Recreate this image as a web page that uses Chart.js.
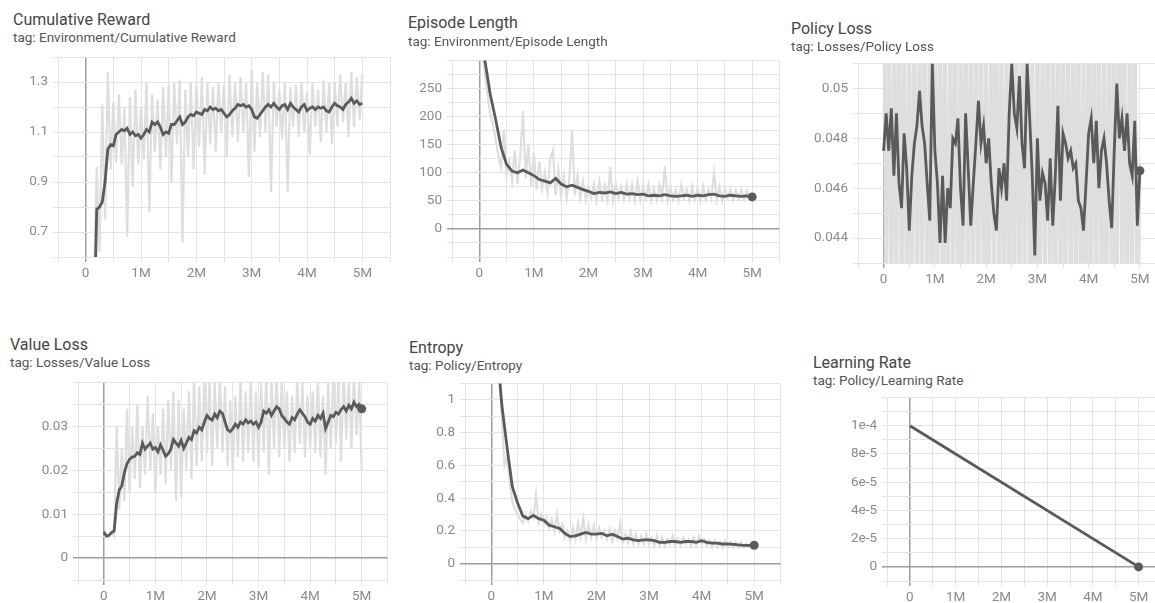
<!DOCTYPE html>
<html>
<head>
<meta charset="utf-8">
<script src="https://cdn.jsdelivr.net/npm/chart.js@4.4.0/dist/chart.umd.min.js"></script>
<style>
  html, body { margin: 0; padding: 0; background: #fff; }
  body { width: 1155px; height: 603px; overflow: hidden; position: relative; font-family: Roboto, "Noto Sans", sans-serif; }
  .title { position: absolute; font-size: 16px; line-height: 18px; color: #454545; white-space: nowrap; }
  .tag { position: absolute; font-size: 13.5px; line-height: 15px; color: #555; white-space: nowrap; }
  canvas { position: absolute; }
</style>
</head>
<body>
<script>
// steps in millions
const smoothSteps = [0, 0.1, 0.2, 0.3, 0.4, 0.5, 0.6, 0.7, 0.8, 0.9,
  1.0, 1.1, 1.2, 1.3, 1.4, 1.5, 1.6, 1.7, 1.8, 1.9,
  2.0, 2.1, 2.2, 2.3, 2.4, 2.5, 2.6, 2.7, 2.8, 2.9,
  3.0, 3.1, 3.2, 3.3, 3.4, 3.5, 3.6, 3.7, 3.8, 3.9,
  4.0, 4.1, 4.2, 4.3, 4.4, 4.5, 4.6, 4.7, 4.8, 4.9,
  5.0];
const rawSteps = [0, 0.05, 0.1, 0.15, 0.2, 0.25, 0.3, 0.35, 0.4, 0.45,
  0.5, 0.55, 0.6, 0.65, 0.7, 0.75, 0.8, 0.85, 0.9, 0.95,
  1.0, 1.05, 1.1, 1.15, 1.2, 1.25, 1.3, 1.35, 1.4, 1.45,
  1.5, 1.55, 1.6, 1.65, 1.7, 1.75, 1.8, 1.85, 1.9, 1.95,
  2.0, 2.05, 2.1, 2.15, 2.2, 2.25, 2.3, 2.35, 2.4, 2.45,
  2.5, 2.55, 2.6, 2.65, 2.7, 2.75, 2.8, 2.85, 2.9, 2.95,
  3.0, 3.05, 3.1, 3.15, 3.2, 3.25, 3.3, 3.35, 3.4, 3.45,
  3.5, 3.55, 3.6, 3.65, 3.7, 3.75, 3.8, 3.85, 3.9, 3.95,
  4.0, 4.05, 4.1, 4.15, 4.2, 4.25, 4.3, 4.35, 4.4, 4.45,
  4.5, 4.55, 4.6, 4.65, 4.7, 4.75, 4.8, 4.85, 4.9, 4.95,
  5.0];

// Environment/Cumulative Reward (smoothed read at rawSteps)
const rewardSmooth = [null, null, null, 0.3, 0.79, 0.8, 0.82, 0.9, 1.03, 1.05,
  1.045, 1.09, 1.10, 1.11, 1.105, 1.115, 1.09, 1.10, 1.085, 1.09,
  1.075, 1.09, 1.11, 1.10, 1.14, 1.13, 1.14, 1.12, 1.09, 1.10,
  1.095, 1.13, 1.13, 1.145, 1.16, 1.13, 1.14, 1.16, 1.17, 1.165,
  1.18, 1.175, 1.17, 1.19, 1.185, 1.20, 1.19, 1.195, 1.185, 1.19,
  1.175, 1.16, 1.17, 1.185, 1.195, 1.21, 1.205, 1.21, 1.20, 1.205,
  1.19, 1.16, 1.155, 1.17, 1.185, 1.20, 1.21, 1.20, 1.215, 1.20,
  1.19, 1.205, 1.21, 1.19, 1.215, 1.20, 1.19, 1.18, 1.20, 1.21,
  1.185, 1.195, 1.20, 1.19, 1.20, 1.195, 1.20, 1.185, 1.18, 1.20,
  1.215, 1.205, 1.20, 1.19, 1.21, 1.22, 1.235, 1.215, 1.225, 1.21,
  1.215];
const rewardRaw = [null, null, null, 0.5, 0.96, 0.62, 1.21, 0.75, 1.34, 0.95,
  1.22, 0.98, 1.25, 0.97, 1.20, 0.68, 1.24, 0.88, 1.27, 0.97,
  1.20, 0.99, 1.30, 0.78, 1.25, 1.02, 1.23, 0.95, 1.28, 1.00,
  1.29, 0.90, 1.30, 1.05, 1.31, 0.66, 1.27, 1.00, 1.30, 0.95,
  1.29, 1.04, 1.32, 0.93, 1.30, 1.05, 1.28, 1.02, 1.30, 1.10,
  1.29, 1.00, 1.33, 1.08, 1.30, 1.06, 1.32, 1.10, 1.30, 0.92,
  1.35, 1.02, 1.30, 1.08, 1.34, 1.10, 1.33, 0.86, 1.30, 1.12,
  1.27, 1.07, 1.30, 0.86, 1.28, 1.12, 1.29, 1.08, 1.30, 1.10,
  1.26, 1.01, 1.30, 1.12, 1.27, 1.06, 1.31, 1.10, 1.30, 1.05,
  1.30, 1.12, 1.33, 1.14, 1.30, 1.08, 1.34, 1.12, 1.32, 1.15,
  1.33];

// Environment/Episode Length
const lengthSmooth = [null, 302, 240, 195, 145, 115, 103, 100, 105, 100,
  95, 88, 85, 82, 90, 80, 75, 78, 74, 70,
  67, 63, 65, 64, 66, 63, 65, 62, 63, 61,
  62, 59, 60, 59, 61, 59, 58, 59, 60, 58,
  60, 59, 61, 62, 59, 58, 60, 59, 58, 59,
  57];
const lengthRaw = [null, 310, 280, 240, 205, 185, 160, 130, 110, 175,
  95, 120, 85, 140, 80, 130, 210, 90, 150, 75,
  135, 70, 120, 72, 100, 65, 125, 140, 60, 105,
  58, 95, 55, 90, 175, 60, 95, 55, 85, 52,
  75, 55, 80, 50, 85, 55, 78, 52, 110, 50,
  80, 55, 75, 52, 80, 55, 78, 50, 85, 52,
  75, 55, 80, 50, 72, 52, 78, 55, 112, 50,
  75, 52, 70, 50, 78, 55, 70, 50, 75, 52,
  72, 50, 76, 52, 70, 55, 100, 52, 75, 50,
  72, 55, 70, 52, 68, 54, 70, 52, 68, 55,
  60];

// Losses/Policy Loss (smoothed read at rawSteps)
const policySmooth = [0.0475, 0.0490, 0.0475, 0.0492, 0.0465, 0.0490, 0.0462, 0.0452, 0.0482, 0.0468,
  0.0443, 0.0465, 0.0478, 0.0485, 0.0499, 0.0485, 0.0478, 0.0462, 0.0447, 0.0510,
  0.0475, 0.0462, 0.0438, 0.0465, 0.0438, 0.0460, 0.0452, 0.0480, 0.0478, 0.0488,
  0.0460, 0.0445, 0.0490, 0.0468, 0.0445, 0.0462, 0.0478, 0.0495, 0.0478, 0.0485,
  0.0470, 0.0480, 0.0462, 0.0450, 0.0443, 0.0468, 0.0460, 0.0470, 0.0455, 0.0490,
  0.0510, 0.0490, 0.0484, 0.0505, 0.0478, 0.0468, 0.0510, 0.0488, 0.0465, 0.0433,
  0.0480, 0.0455, 0.0466, 0.0462, 0.0447, 0.0472, 0.0445, 0.0465, 0.0493, 0.0455,
  0.0482, 0.0478, 0.0472, 0.0475, 0.0468, 0.0470, 0.0455, 0.0452, 0.0443, 0.0462,
  0.0482, 0.0488, 0.0470, 0.0487, 0.0460, 0.0475, 0.0480, 0.0470, 0.0455, 0.0444,
  0.0475, 0.0502, 0.0480, 0.0488, 0.0475, 0.0490, 0.0470, 0.0465, 0.0487, 0.0445,
  0.0467];
const policyRaw = [0.057, 0.037, 0.059, 0.036, 0.056, 0.038, 0.060, 0.035, 0.058, 0.037,
  0.055, 0.038, 0.059, 0.036, 0.057, 0.037, 0.061, 0.035, 0.056, 0.038,
  0.058, 0.036, 0.060, 0.037, 0.055, 0.035, 0.059, 0.038, 0.057, 0.036,
  0.056, 0.037, 0.060, 0.035, 0.058, 0.038, 0.057, 0.036, 0.059, 0.037,
  0.055, 0.036, 0.058, 0.038, 0.061, 0.035, 0.057, 0.037, 0.056, 0.036,
  0.060, 0.038, 0.058, 0.035, 0.059, 0.037, 0.061, 0.036, 0.055, 0.035,
  0.058, 0.037, 0.056, 0.038, 0.059, 0.036, 0.057, 0.035, 0.060, 0.037,
  0.056, 0.038, 0.058, 0.036, 0.057, 0.037, 0.059, 0.035, 0.055, 0.036,
  0.060, 0.037, 0.057, 0.038, 0.058, 0.036, 0.056, 0.035, 0.059, 0.037,
  0.058, 0.036, 0.061, 0.038, 0.056, 0.035, 0.057, 0.037, 0.060, 0.036,
  0.047];

// Losses/Value Loss (smoothed read at rawSteps)
const valueSmooth = [0.006, 0.005, 0.0052, 0.0058, 0.0062, 0.0125, 0.0155, 0.0165, 0.0195, 0.0215,
  0.0225, 0.023, 0.0232, 0.024, 0.0236, 0.0262, 0.0248, 0.0255, 0.0262, 0.0248,
  0.0252, 0.0242, 0.0258, 0.0245, 0.0232, 0.0238, 0.0248, 0.027, 0.0262, 0.0255,
  0.0268, 0.025, 0.0262, 0.0275, 0.027, 0.029, 0.0285, 0.0298, 0.0292, 0.031,
  0.0325, 0.0318, 0.0314, 0.0328, 0.032, 0.0335, 0.033, 0.031, 0.0292, 0.0288,
  0.0295, 0.0305, 0.0298, 0.031, 0.0305, 0.0315, 0.0308, 0.0312, 0.0305, 0.031,
  0.0298, 0.031, 0.0335, 0.033, 0.0338, 0.0325, 0.0335, 0.0345, 0.034, 0.0325,
  0.0318, 0.031, 0.0305, 0.032, 0.0315, 0.0328, 0.0338, 0.033, 0.0322, 0.031,
  0.0305, 0.0318, 0.0312, 0.0325, 0.0318, 0.033, 0.0295, 0.031, 0.0325, 0.0322,
  0.0332, 0.0328, 0.0338, 0.0345, 0.0335, 0.0348, 0.034, 0.0355, 0.0345, 0.035,
  0.034];
const valueRaw = [0.006, 0.005, 0.0045, 0.006, 0.005, 0.03, 0.011, 0.025, 0.013, 0.034,
  0.015, 0.03, 0.018, 0.035, 0.016, 0.03, 0.019, 0.037, 0.02, 0.033,
  0.015, 0.03, 0.019, 0.034, 0.017, 0.036, 0.02, 0.038, 0.013, 0.036,
  0.014, 0.034, 0.02, 0.038, 0.018, 0.041, 0.021, 0.039, 0.022, 0.042,
  0.024, 0.041, 0.021, 0.04, 0.025, 0.042, 0.024, 0.039, 0.021, 0.036,
  0.02, 0.037, 0.023, 0.041, 0.022, 0.038, 0.024, 0.041, 0.022, 0.038,
  0.021, 0.04, 0.024, 0.042, 0.019, 0.041, 0.025, 0.043, 0.023, 0.041,
  0.025, 0.038, 0.022, 0.037, 0.024, 0.041, 0.026, 0.04, 0.023, 0.037,
  0.025, 0.038, 0.024, 0.041, 0.023, 0.037, 0.019, 0.04, 0.025, 0.042,
  0.026, 0.041, 0.022, 0.043, 0.027, 0.041, 0.025, 0.042, 0.028, 0.04,
  0.02];

// Policy/Entropy
const entropySmooth = [null, 1.35, 0.97, 0.71, 0.47, 0.37, 0.29, 0.275, 0.295, 0.275,
  0.265, 0.235, 0.225, 0.215, 0.185, 0.165, 0.17, 0.18, 0.19, 0.18,
  0.18, 0.185, 0.17, 0.18, 0.165, 0.15, 0.155, 0.145, 0.14, 0.145,
  0.145, 0.14, 0.13, 0.13, 0.135, 0.135, 0.13, 0.135, 0.135, 0.13,
  0.14, 0.13, 0.125, 0.125, 0.12, 0.12, 0.118, 0.115, 0.112, 0.112,
  0.112];
const entropyRaw = [null, null, null, 1.2, 0.9, 0.6, 0.66, 0.5, 0.38, 0.33,
  0.3, 0.27, 0.25, 0.3, 0.26, 0.32, 0.28, 0.42, 0.25, 0.3,
  0.24, 0.28, 0.22, 0.27, 0.2, 0.3, 0.2, 0.24, 0.16, 0.2,
  0.14, 0.22, 0.15, 0.25, 0.16, 0.28, 0.15, 0.24, 0.16, 0.23,
  0.15, 0.22, 0.16, 0.2, 0.15, 0.21, 0.14, 0.2, 0.15, 0.25,
  0.13, 0.18, 0.13, 0.2, 0.12, 0.18, 0.12, 0.17, 0.12, 0.18,
  0.12, 0.16, 0.11, 0.17, 0.11, 0.16, 0.11, 0.15, 0.12, 0.17,
  0.11, 0.15, 0.11, 0.16, 0.12, 0.15, 0.11, 0.16, 0.11, 0.17,
  0.12, 0.15, 0.11, 0.14, 0.1, 0.14, 0.1, 0.13, 0.1, 0.14,
  0.1, 0.13, 0.1, 0.13, 0.1, 0.13, 0.1, 0.12, 0.1, 0.12,
  0.11];

// Policy/Learning Rate
const lrSteps = [0, 5.0];
const lrValues = [1e-4, 0];

const xTickLabels = ['0', '1M', '2M', '3M', '4M', '5M'];

// y tick label formatters
function fmtReward(v) { const n = Math.round(v * 10); return (n % 2 === 1 && n >= 7 && n <= 13) ? (n / 10).toFixed(1) : ''; }
function fmtLength(v) { return (v % 50 === 0 && v >= 0 && v <= 250) ? String(v) : ''; }
function fmtPolicy(v) { const n = Math.round(v * 1000); return (n % 2 === 0 && n >= 44 && n <= 50) ? String(n / 1000) : ''; }
function fmtValue(v) { const n = Math.round(v * 1000); return (n % 10 === 0 && n >= 0 && n <= 30) ? String(n / 1000) : ''; }
function fmtEntropy(v) { const n = Math.round(v * 10); return (n % 2 === 0 && n >= 0 && n <= 10) ? String(n / 10) : ''; }
function fmtLr(v) {
  const n = Math.round(v * 1e5);
  if (n % 2 !== 0 || n < 0 || n > 10) return '';
  if (n === 0) return '0';
  if (n === 10) return '1e-4';
  return n + 'e-5';
}

const panels = [
  { title: 'Cumulative Reward', tag: 'tag: Environment/Cumulative Reward', tx: 13, ty: 20, sy: 37,
    L: 58, T: 57, R: 390, B: 257, ymin: 0.6, ymax: 1.4, ystep: 0.1, fmt: fmtReward,
    smoothX: rawSteps, smooth: rewardSmooth, rawX: rawSteps, raw: rewardRaw, dot: false },
  { title: 'Episode Length', tag: 'tag: Environment/Episode Length', tx: 408, ty: 23, sy: 41,
    L: 452, T: 60, R: 780, B: 257, ymin: -50, ymax: 300, ystep: 25, fmt: fmtLength,
    smoothX: smoothSteps, smooth: lengthSmooth, rawX: rawSteps, raw: lengthRaw, dot: true },
  { title: 'Policy Loss', tag: 'tag: Losses/Policy Loss', tx: 791, ty: 29, sy: 46,
    L: 858, T: 63, R: 1166, B: 263, ymin: 0.043, ymax: 0.051, ystep: 0.001, fmt: fmtPolicy,
    smoothX: rawSteps, smooth: policySmooth, rawX: rawSteps, raw: policyRaw, dot: true, rawWidth: 3 },
  { title: 'Value Loss', tag: 'tag: Losses/Value Loss', tx: 10, ty: 345, sy: 362,
    L: 78, T: 382, R: 388, B: 580, ymin: -0.005, ymax: 0.04, ystep: 0.005, fmt: fmtValue,
    smoothX: rawSteps, smooth: valueSmooth, rawX: rawSteps, raw: valueRaw, dot: true },
  { title: 'Entropy', tag: 'tag: Policy/Entropy', tx: 409, ty: 348, sy: 365,
    L: 465, T: 383, R: 781, B: 580, ymin: -0.1, ymax: 1.1, ystep: 0.1, fmt: fmtEntropy,
    smoothX: smoothSteps, smooth: entropySmooth, rawX: rawSteps, raw: entropyRaw, dot: true },
  { title: 'Learning Rate', tag: 'tag: Policy/Learning Rate', tx: 813, ty: 363, sy: 380,
    L: 887, T: 397, R: 1162, B: 581, ymin: -1e-5, ymax: 1.2e-4, ystep: 1e-5, fmt: fmtLr,
    smoothX: lrSteps, smooth: lrValues, rawX: null, raw: null, dot: true }
];

const YW = 60, XH = 35, PAD = 4;
const GRID = '#e4e4e4', ZERO = '#9e9e9e';
const tickFont = { family: 'Roboto', size: 13.5 };

function pairs(xs, ys) { return ys.map((v, i) => ({ x: xs[i], y: v })); }

panels.forEach(p => {
  const t = document.createElement('div');
  t.className = 'title'; t.textContent = p.title;
  t.style.left = p.tx + 'px'; t.style.top = (p.ty - 9) + 'px';
  document.body.appendChild(t);
  const s = document.createElement('div');
  s.className = 'tag'; s.textContent = p.tag;
  s.style.left = p.tx + 'px'; s.style.top = (p.sy - 7.5) + 'px';
  document.body.appendChild(s);

  const c = document.createElement('canvas');
  const w = p.R - p.L + YW + PAD, h = p.B - p.T + PAD + XH;
  c.width = w; c.height = h;
  c.style.left = (p.L - YW) + 'px'; c.style.top = (p.T - PAD) + 'px';
  c.style.width = w + 'px'; c.style.height = h + 'px';
  document.body.appendChild(c);

  const datasets = [{
    data: pairs(p.smoothX, p.smooth),
    borderColor: '#5a5a5a', backgroundColor: '#5a5a5a',
    borderWidth: 2.8, tension: 0,
    pointRadius: ctx => (p.dot && ctx.dataIndex === p.smooth.length - 1) ? 4.5 : 0,
    pointBorderWidth: 0
  }];
  if (p.raw) {
    datasets.push({
      data: pairs(p.rawX, p.raw),
      borderColor: '#dedede', borderWidth: p.rawWidth || 2.2, tension: 0, pointRadius: 0
    });
  }

  new Chart(c.getContext('2d'), {
    type: 'line',
    data: { datasets: datasets },
    options: {
      responsive: false, animation: false, devicePixelRatio: 1,
      layout: { padding: { top: PAD, right: PAD, left: 0, bottom: 0 } },
      plugins: { legend: { display: false }, tooltip: { enabled: false } },
      scales: {
        x: {
          type: 'linear', min: -0.5, max: 5.5,
          border: { display: false },
          grid: {
            color: ctx => (ctx.tick && ctx.tick.value === 0) ? ZERO : GRID,
            lineWidth: ctx => (ctx.tick && ctx.tick.value === 0) ? 1.5 : 1,
            tickLength: 5
          },
          ticks: {
            stepSize: 0.5, autoSkip: false, maxRotation: 0, minRotation: 0,
            color: '#8a8a8a', font: tickFont, padding: 4,
            callback: v => Number.isInteger(v) && v >= 0 && v <= 5 ? xTickLabels[v] : ''
          },
          afterFit: sc => { sc.height = XH; sc.paddingLeft = 0; sc.paddingRight = 0; }
        },
        y: {
          min: p.ymin, max: p.ymax,
          border: { display: false },
          grid: {
            color: ctx => (ctx.tick && Math.abs(ctx.tick.value) < p.ystep / 100) ? ZERO : GRID,
            lineWidth: ctx => (ctx.tick && Math.abs(ctx.tick.value) < p.ystep / 100) ? 1.5 : 1,
            tickLength: 5
          },
          ticks: {
            stepSize: p.ystep, autoSkip: false, color: '#8a8a8a', font: tickFont, padding: 5,
            callback: v => p.fmt(v)
          },
          afterFit: sc => { sc.width = YW; sc.paddingTop = 0; sc.paddingBottom = 0; }
        }
      }
    }
  });
});
</script>
</body>
</html>
